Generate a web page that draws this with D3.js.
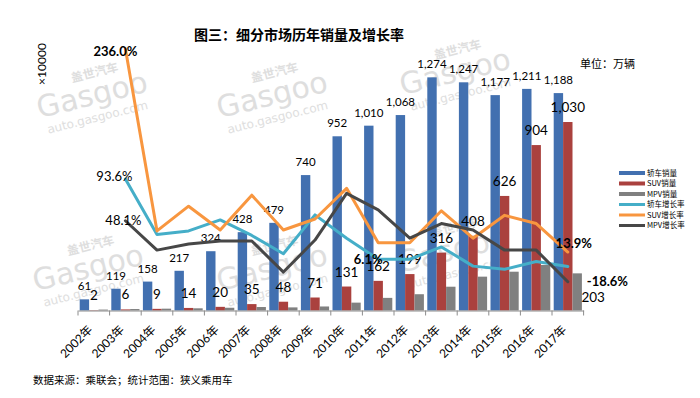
<!DOCTYPE html>
<html>
<head>
<meta charset="utf-8">
<script src="https://cdn.jsdelivr.net/npm/d3@7"></script>
<style>
  body { margin: 0; background: #fff; }
  svg { font-family: Lato, "Noto Sans CJK SC", sans-serif; }
</style>
</head>
<body>
<div id="chart"></div>
<script>
// data (万辆 / %)
const years = ["2002年","2003年","2004年","2005年","2006年","2007年","2008年","2009年",
  "2010年","2011年","2012年","2013年","2014年","2015年","2016年","2017年"];
const sedanSales = [61,119,158,217,324,428,479,740,952,1010,1068,1274,1247,1177,1211,1188];
const suvSales = [2,6,9,14,20,35,48,71,131,162,199,316,408,626,904,1030];
const mpvSales = [5,8,10,12,15,19,17,22,43,69,89,130,185,212,249,203];
const sedanGrowth = [null,93.6,33,37,49,32,12,54.5,29,6.1,6,19.5,-1.5,-5,3.5,-1.9];
const suvGrowth = [null,236.0,37,64,38,76,38,50,83.5,24,24,59,29,54,45,13.9];
const mpvGrowth = [null,48.1,16,22.6,26,26,-8,27,78,60,29,45,38,16,16,-18.6];
const legendLabels = ["轿车销量","SUV销量","MPV销量","轿车增长率","SUV增长率","MPV增长率"];

const width = 700, height = 398;
const colors = { sedan: "#4270B0", suv: "#AA413E", mpv: "#808080",
  sedanLine: "#45AEC8", suvLine: "#F8963F", mpvLine: "#474747" };

const svg = d3.select("#chart").append("svg")
  .attr("width", width).attr("height", height);

// watermarks
const wm = [[92,95],[272,95],[455,72],[88,268],[272,268],[452,250]];
wm.forEach(([cx, cy]) => {
  const g = svg.append("g").attr("transform", `translate(${cx},${cy}) rotate(-14)`)
    .attr("fill", "#dedede").attr("text-anchor", "middle");
  g.append("text").attr("y", -17).attr("x", 8).attr("font-size", 12).attr("font-weight", "bold").text("盖世汽车");
  g.append("text").attr("y", 10).attr("font-size", 30).attr("font-family", "DejaVu Sans").text("Gasgoo");
  g.append("text").attr("y", 27).attr("font-size", 12).attr("font-family", "DejaVu Sans").text("auto.gasgoo.com");
});

const x = d3.scaleBand().domain(years).range([78, 583.6]);
const sub = d3.scaleBand().domain(["sedan","suv","mpv"]).range([1.7, 29.9]);
const y = d3.scaleLinear().domain([0, 1500]).range([310.5, 36]);
const y2 = d3.scaleLinear().domain([-50, 250]).range([310.5, 36]);

const series = [
  { key: "sedan", values: sedanSales },
  { key: "suv", values: suvSales },
  { key: "mpv", values: mpvSales }
];

series.forEach(s => {
  svg.append("g").selectAll("rect").data(s.values).enter().append("rect")
    .attr("x", (d, i) => x(years[i]) + sub(s.key))
    .attr("y", d => y(d))
    .attr("width", sub.bandwidth())
    .attr("height", d => y(0) - y(d))
    .attr("fill", colors[s.key]);
});

// x axis
const axis = svg.append("g").attr("transform", `translate(0,${y(0)})`)
  .call(d3.axisBottom(x).tickSize(0).tickFormat(""));
axis.select(".domain").attr("stroke", "#8c8c8c");
const bounds = years.map(d => x(d)).concat([x.range()[1]]);
svg.append("g").selectAll("line").data(bounds).enter().append("line")
  .attr("x1", d => d).attr("x2", d => d)
  .attr("y1", y(0)).attr("y2", y(0) + 5)
  .attr("stroke", "#8c8c8c");
svg.append("g").selectAll("text").data(years).enter().append("text")
  .attr("transform", d => `translate(${x(d) + x.bandwidth() / 2 - 0.5},${y(0) + 20}) rotate(-45)`)
  .attr("text-anchor", "end").attr("font-size", 12).attr("fill", "#000")
  .text(d => d);

// bar labels
const fmt = d3.format(",");
svg.append("g").selectAll("text").data(sedanSales).enter().append("text")
  .attr("x", (d, i) => x(years[i]) + sub("sedan") + sub.bandwidth() / 2)
  .attr("y", d => y(d) - 9)
  .attr("text-anchor", "middle").attr("font-size", 11.5)
  .text(d => fmt(d));
svg.append("g").selectAll("text").data(suvSales).enter().append("text")
  .attr("x", (d, i) => x(years[i]) + sub("suv") + sub.bandwidth() / 2)
  .attr("y", d => y(d) - 10)
  .attr("text-anchor", "middle").attr("font-size", 13.5)
  .text(d => fmt(d));
const last = years.length - 1;
svg.append("text")
  .attr("x", x(years[last]) + sub("mpv") + sub.bandwidth() / 2 + 16)
  .attr("y", y(mpvSales[last]) + 29)
  .attr("text-anchor", "middle").attr("font-size", 13.5)
  .text(fmt(mpvSales[last]));

// growth lines
const cx = i => x(years[i]) + x.bandwidth() / 2;
const line = d3.line().defined(d => d != null)
  .x((d, i) => cx(i)).y(d => y2(d));
[["sedanLine", sedanGrowth], ["suvLine", suvGrowth], ["mpvLine", mpvGrowth]].forEach(([k, vals]) => {
  svg.append("path").datum(vals)
    .attr("d", line)
    .attr("fill", "none")
    .attr("stroke", colors[k])
    .attr("stroke-width", 3)
    .attr("stroke-linejoin", "round")
    .attr("stroke-linecap", "round");
});

// growth labels: [values, index, dx, dy, anchor, bold]
const pct = d => d.toFixed(1) + "%";
const growthLabels = [
  [suvGrowth, 1, -10, 7.5, "middle", true],
  [sedanGrowth, 1, -11, 1.5, "middle", false],
  [mpvGrowth, 1, -2, 4.5, "middle", false],
  [sedanGrowth, 9, -10, 4.5, "middle", true],
  [suvGrowth, 15, 6, -4.5, "middle", true],
  [mpvGrowth, 15, 19, 4.5, "start", true]
];
growthLabels.forEach(([vals, i, dx, dy, anchor, bold]) => {
  svg.append("text")
    .attr("x", cx(i) + dx).attr("y", y2(vals[i]) + dy)
    .attr("text-anchor", anchor)
    .attr("font-size", 13)
    .attr("font-weight", bold ? "bold" : "normal")
    .text(pct(vals[i]));
});

// legend
const legendColors = [colors.sedan, colors.suv, colors.mpv, colors.sedanLine, colors.suvLine, colors.mpvLine];
const lg = svg.append("g").attr("transform", "translate(619,173)");
legendLabels.forEach((t, i) => {
  const yy = i * 10.5;
  lg.append("line").attr("x1", 0).attr("x2", 26).attr("y1", yy).attr("y2", yy)
    .attr("stroke", legendColors[i]).attr("stroke-width", i < 3 ? 4 : 3);
  lg.append("text").attr("x", 28).attr("y", yy + 2.8)
    .attr("font-size", 7.5).attr("font-family", "Noto Sans CJK SC").text(t);
});

// titles and notes
svg.append("text").attr("x", 194).attr("y", 40)
  .attr("font-size", 14).attr("font-weight", "bold").attr("font-family", "Noto Sans CJK SC")
  .text("图三：细分市场历年销量及增长率");
svg.append("text").attr("x", 580).attr("y", 68)
  .attr("font-size", 11).attr("font-family", "Noto Sans CJK SC")
  .text("单位：万辆");
svg.append("text").attr("transform", "translate(46,64) rotate(-90)")
  .attr("text-anchor", "middle").attr("font-size", 12)
  .text("×10000");
svg.append("text").attr("x", 33).attr("y", 384)
  .attr("font-size", 10.5).attr("font-family", "Noto Sans CJK SC")
  .text("数据来源：乘联会；统计范围：狭义乘用车");
</script>
</body>
</html>
